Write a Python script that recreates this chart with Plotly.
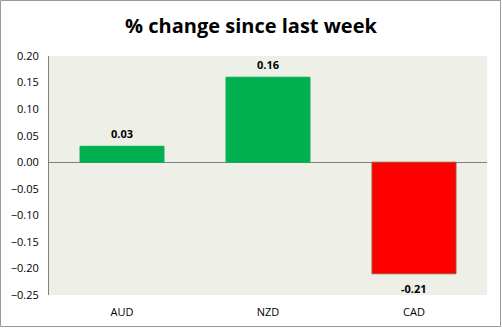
import plotly.graph_objects as go

categories = ["AUD", "NZD", "CAD"]
values = [0.03, 0.16, -0.21]
labels = ["0.03", "0.16", "-0.21"]
colors = ["#00B050", "#00B050", "#FF0000"]
edge_colors = ["#00B050", "#00B050", "#A0522D"]

W, H = 502, 328
ml, mr, mt, mb = 49, 15, 56, 33
pw, ph = W - ml - mr, H - mt - mb

fig = go.Figure(go.Bar(
    x=categories, y=values, width=0.575,
    marker=dict(color=colors, line=dict(color=edge_colors, width=1)),
))

for c, v, t in zip(categories, values, labels):
    fig.add_annotation(x=c, y=v, text=f"<b>{t}</b>", showarrow=False,
                       yshift=13 if v >= 0 else -15, yanchor="middle",
                       font=dict(family="Open Sans", size=11, color="black"))

fig.update_layout(
    width=W, height=H,
    margin=dict(l=ml, r=mr, t=mt, b=mb, autoexpand=False),
    paper_bgcolor="white", plot_bgcolor="#EEF0E8",
    font=dict(family="Open Sans", size=11, color="black"),
    title=dict(text="<b>% change since last week</b>", x=0.5, xanchor="center",
               y=1 - 26 / H, yanchor="middle",
               font=dict(family="Open Sans", size=20, color="black")),
    showlegend=False,
    xaxis=dict(showgrid=False, showline=False, ticks="", tickfont=dict(size=11),
               ticklabelstandoff=9, automargin=False),
    yaxis=dict(range=[-0.25, 0.2], dtick=0.05, tickformat=".2f", showgrid=False,
               showline=True, linecolor="#808080", linewidth=1,
               zeroline=True, zerolinecolor="#808080", zerolinewidth=1,
               ticks="", tickfont=dict(size=11), ticklabelstandoff=7,
               automargin=False),
    shapes=[dict(type="rect", xref="paper", yref="paper",
                 x0=(-ml + 0.5) / pw, x1=1 + (mr - 1.5) / pw,
                 y0=(-mb + 1.5) / ph, y1=1 + (mt - 0.5) / ph,
                 line=dict(color="#9A9A9A", width=1), layer="above")],
)

fig.write_html("out.html")
